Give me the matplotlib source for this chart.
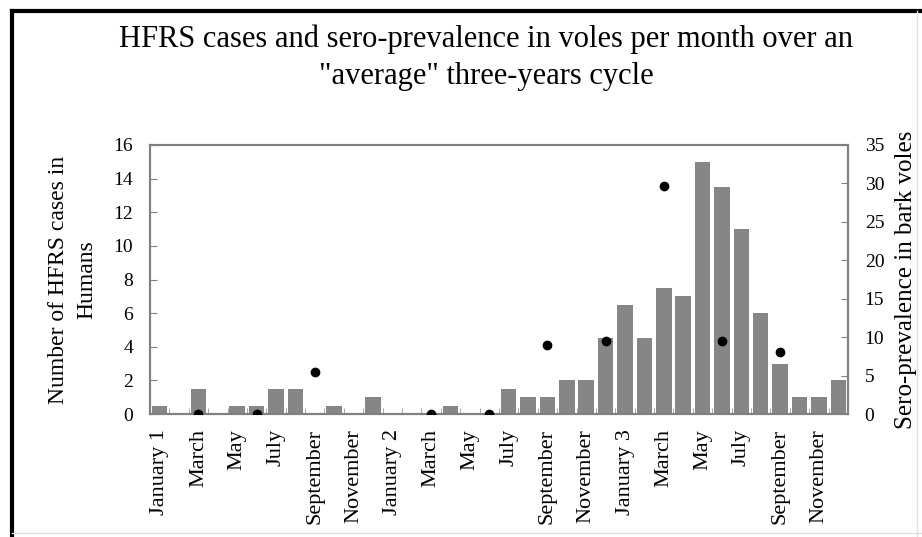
import matplotlib
matplotlib.use("Agg")
import matplotlib.pyplot as plt
import numpy as np
from matplotlib.lines import Line2D

plt.rcParams['font.family'] = ['Liberation Serif', 'DejaVu Serif']

# Monthly HFRS cases in humans over a three-year cycle (36 months)
cases = [0.5, 0, 1.5, 0, 0.5, 0.5, 1.5, 1.5, 0, 0.5, 0, 1.0,
         0, 0, 0, 0.5, 0, 0, 1.5, 1.0, 1.0, 2.0, 2.0, 4.5,
         6.5, 4.5, 7.5, 7.0, 15.0, 13.5, 11.0, 6.0, 3.0, 1.0, 1.0, 2.0]

# Sero-prevalence in bank voles, sampled every third month
sero_months = [2, 5, 8, 14, 17, 20, 23, 26, 29, 32]
sero_values = [0, 0, 5.5, 0, 0, 9.0, 9.5, 29.6, 9.5, 8.1]

tick_labels = ["January 1", "March", "May", "July", "September", "November",
               "January 2", "March", "May", "July", "September", "November",
               "January 3", "March", "May", "July", "September", "November"]

fig = plt.figure(figsize=(9.22, 5.37), dpi=100)
ax = fig.add_axes([0.1627, 0.229, 0.757, 0.501])

months = np.arange(len(cases))
ax.bar(months, cases, width=0.8, color='#868686', edgecolor='none', zorder=2)
ax.set_xlim(-0.5, len(cases) - 0.5)
ax.set_ylim(0, 16)
ax.set_yticks(np.arange(0, 17, 2))

ax.set_xticks(months[::2])
ax.set_xticklabels(tick_labels, rotation=90, fontsize=16)
ax.set_xticks(np.arange(-0.5, len(cases), 1), minor=True)
ax.tick_params(axis='x', which='major', length=0, pad=11)
ax.tick_params(axis='x', which='minor', direction='in', length=4, color='#9a9a9a')
ax.tick_params(axis='y', direction='in', length=5, color='#808080', labelsize=14, pad=12)

ax2 = ax.twinx()
ax2.plot(sero_months, sero_values, 'o', color='black', markersize=6, zorder=3)
ax2.set_ylim(0, 35)
ax2.set_yticks(np.arange(0, 36, 5))
ax2.tick_params(axis='y', direction='in', length=5, color='#808080', labelsize=14, pad=12)

for a in (ax, ax2):
    for s in a.spines.values():
        s.set_color('#808080')
        s.set_linewidth(1.5)

ax.set_ylabel("Number of HFRS cases in\nHumans", fontsize=17, labelpad=12, linespacing=1.45)
ax2.set_ylabel("Sero-prevalence in bark voles", fontsize=18, labelpad=8)

fig.text(0.527, 0.926, "HFRS cases and sero-prevalence in voles per month over an",
         ha='center', va='center', fontsize=22)
fig.text(0.527, 0.858, "\"average\" three-years cycle", ha='center', va='center', fontsize=22)

# outer frame: heavy black on the left and top, faint on the other sides
fig.add_artist(Line2D([0.0125, 0.0125], [0.0, 0.98], transform=fig.transFigure,
                      color='black', linewidth=3))
fig.add_artist(Line2D([0.0125, 1.0], [0.98, 0.98], transform=fig.transFigure,
                      color='black', linewidth=3))
fig.add_artist(Line2D([0.995, 0.995], [0.0, 0.98], transform=fig.transFigure,
                      color='#e0e0e0', linewidth=1))
fig.add_artist(Line2D([0.0125, 1.0], [0.008, 0.008], transform=fig.transFigure,
                      color='#e0e0e0', linewidth=1))

fig.savefig("out.png", dpi=100)
